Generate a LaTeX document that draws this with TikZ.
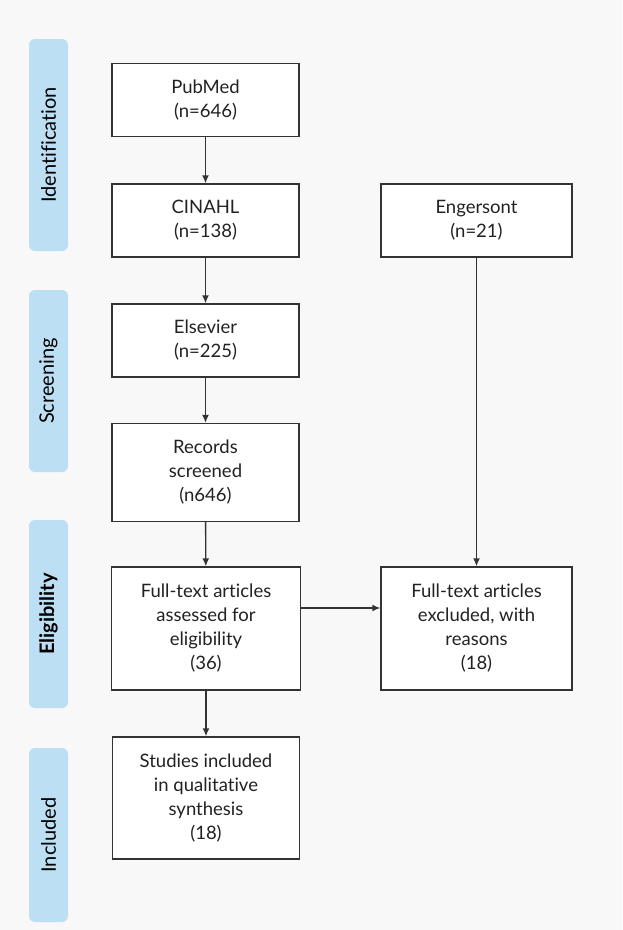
\documentclass[tikz,border=0pt]{standalone}
\usepackage{fontspec}
\setmainfont{Lato}[Ligatures={NoCommon}]
\usetikzlibrary{arrows.meta}
\definecolor{bgc}{HTML}{F8F8F8}
\definecolor{pillc}{HTML}{BDDFF4}
\definecolor{linec}{HTML}{333333}
\definecolor{txtc}{HTML}{222222}
\tikzset{
  flowbox/.style={draw=linec, line width=1.4pt, fill=white, rectangle, align=center,
    font=\fontsize{18.5}{24}\selectfont, text=txtc, inner sep=0pt},
  pill/.style={fill=pillc, rounded corners=6pt, draw=none, minimum width=39pt, inner sep=0pt},
  pilltext/.style={rotate=90, font=\fontsize{20}{22}\selectfont, text=black},
  arr/.style={draw=linec, line width=1.4pt, -{Latex[length=8pt,width=7pt]}}
}
\begin{document}
\begin{tikzpicture}[x=1pt,y=-1pt]
\useasboundingbox (0,0) rectangle (622,930);
\fill[bgc] (0,0) rectangle (622,930);
% phase pills
\node[pill, minimum height=212pt] (p1) at (48.5,145) {};
\node[pilltext] (t1) at (p1.center) {Identification};
\node[pill, minimum height=182pt] (p2) at (48.5,381) {};
\node[pilltext] (t2) at (p2.center) {Screening};
\node[pill, minimum height=188pt] (p3) at (48.5,614) {};
\node[pilltext, font=\fontsize{20}{22}\selectfont\bfseries] (t3) at (p3.center) {Eligibility};
\node[pill, minimum height=174pt] (p4) at (48.5,835) {};
\node[pilltext] (t4) at (p4.center) {Included};
% boxes
\node[flowbox, minimum width=187pt, minimum height=73pt] (pub) at (205.5,100) {PubMed\\(n=646)};
\node[flowbox, minimum width=187pt, minimum height=73pt] (cin) at (205.5,220.5) {CINAHL\\(n=138)};
\node[flowbox, minimum width=191pt, minimum height=73pt] (eng) at (476.5,220.5) {Engersont\\(n=21)};
\node[flowbox, minimum width=187pt, minimum height=73pt] (els) at (205.5,340.5) {Elsevier\\(n=225)};
\node[flowbox, minimum width=187pt, minimum height=98pt] (rec) at (205.5,472.5) {Records\\screened\\(n646)};
\node[flowbox, minimum width=189pt, minimum height=123pt] (fta) at (206,628.5) {Full-text articles\\assessed for\\eligibility\\(36)};
\node[flowbox, minimum width=191pt, minimum height=123pt] (fte) at (476.5,628.5) {Full-text articles\\excluded, with\\reasons\\(18)};
\node[flowbox, minimum width=187pt, minimum height=122pt] (inc) at (206,798) {Studies included\\in qualitative\\synthesis\\(18)};
% connectors
\draw[arr] (pub) -- (cin);
\draw[arr] (cin) -- (els);
\draw[arr] (els) -- (rec);
\draw[arr] (rec) -- (fta);
\draw[arr] (fta) -- (inc);
\draw[arr] (eng) -- (fte);
\draw[arr] ([yshift=20.5pt]fta.east) -- ([yshift=20.5pt]fte.west);
\end{tikzpicture}
\end{document}
